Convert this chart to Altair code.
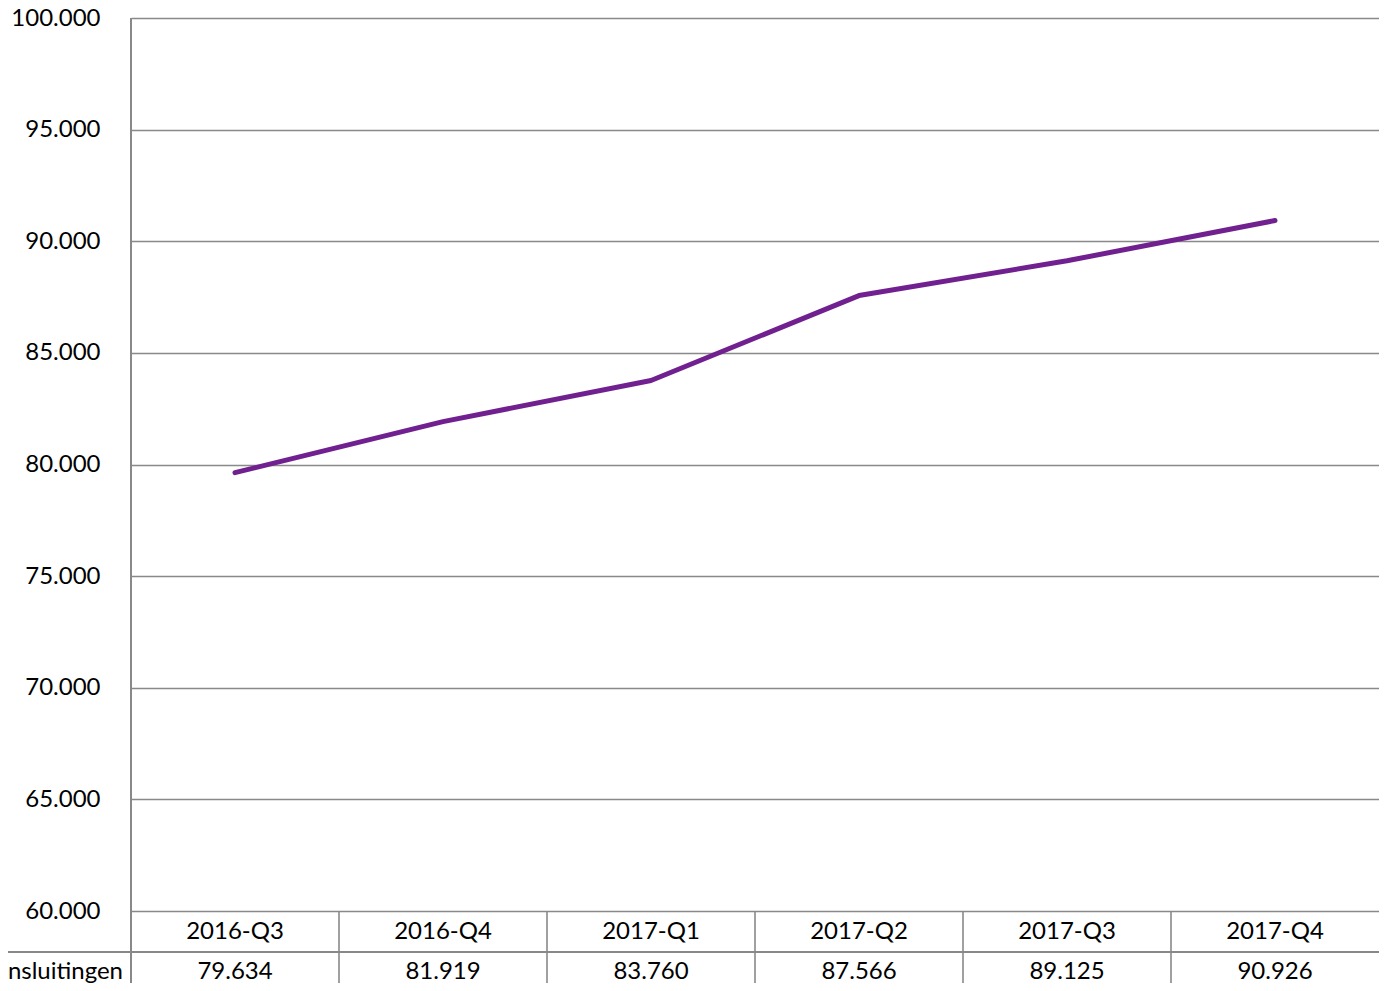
import altair as alt
import pandas as pd

categories = ["2016-Q3", "2016-Q4", "2017-Q1", "2017-Q2", "2017-Q3", "2017-Q4"]
values = [79634, 81919, 83760, 87566, 89125, 90926]
series_name = "Aansluitingen"
y_ticks = [60000, 65000, 70000, 75000, 80000, 85000, 90000, 95000, 100000]

FONT = "Lato"
FS = 24
GRID = "#898989"
n = len(categories)

df = pd.DataFrame({
    "cat": categories,
    "value": values,
    "pos": [i + 0.5 for i in range(n)],
    "label": [f"{v:,}".replace(",", ".") for v in values],
})
bounds = pd.DataFrame({"b": list(range(1, n))})

W, H = 1248, 893
TB = 72  # visible table height
xs = alt.Scale(domain=[0, n], nice=False, zero=False)
ys = alt.Scale(domain=[60000, 100000], nice=False, zero=False)

line = alt.Chart(df).mark_line(color="#70218F", strokeWidth=5, strokeCap="round", strokeJoin="round").encode(
    x=alt.X("pos:Q", scale=xs, axis=None),
    y=alt.Y("value:Q", scale=ys, axis=alt.Axis(
        values=y_ticks, grid=True, gridColor=GRID, gridWidth=1.6, domain=False, ticks=False,
        labelPadding=31, labelFont=FONT, labelFontSize=FS, labelColor="#000000",
        labelExpr="replace(format(datum.value, ',d'), ',', '.')", title=None)),
)

cat_text = alt.Chart(df).mark_text(font=FONT, fontSize=FS, color="#000000", baseline="middle").encode(
    x=alt.X("pos:Q", scale=xs), y=alt.value(H + 21), text="cat:N")
val_text = alt.Chart(df).mark_text(font=FONT, fontSize=FS, color="#000000", baseline="middle").encode(
    x=alt.X("pos:Q", scale=xs), y=alt.value(H + 61), text="label:N")

vrules = alt.Chart(bounds).mark_rule(color=GRID, strokeWidth=1.6).encode(
    x=alt.X("b:Q", scale=xs), y=alt.value(H), y2=alt.value(H + TB))
left_axis = alt.Chart(bounds).mark_rule(color=GRID, strokeWidth=1.6).encode(
    x=alt.value(0), y=alt.value(0), y2=alt.value(H + TB))
mid_rule = alt.Chart(bounds).mark_rule(color=GRID, strokeWidth=1.6).encode(
    x=alt.value(-200), x2=alt.value(W), y=alt.value(H + 41))
row_label = alt.Chart(pd.DataFrame({"t": [series_name]})).mark_text(
    font=FONT, fontSize=FS, color="#000000", align="right", baseline="middle").encode(
    x=alt.value(-8), y=alt.value(H + 61), text="t:N")

chart = alt.layer(line, vrules, left_axis, mid_rule, cat_text, val_text, row_label).properties(
    width=W, height=H,
    autosize=alt.AutoSizeParams(type="none"),
    padding={"left": 123, "top": 10, "right": 0, "bottom": TB},
).configure_view(stroke=None).configure(background="white")

chart.save("out.html", embed_options={"renderer": "svg", "actions": False})
